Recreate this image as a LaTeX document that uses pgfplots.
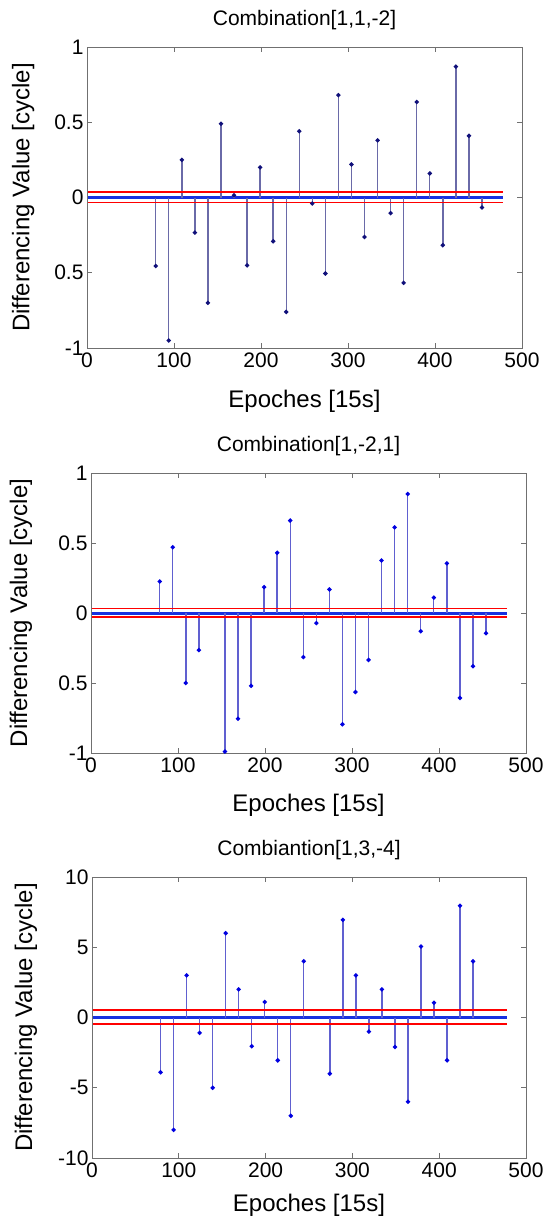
\documentclass[border=0pt]{standalone}
\usepackage{fontspec}
\setmainfont{Liberation Sans}
\usepackage{pgfplots}
\usepackage{pgfplotstable}
\pgfplotsset{compat=1.18}

\definecolor{boxgray}{HTML}{707070}
\definecolor{spikeA}{HTML}{6A6AA8}
\definecolor{dotA}{HTML}{10107A}
\definecolor{spikeB}{HTML}{6060D0}
\definecolor{dotB}{HTML}{0000E0}
\definecolor{band}{HTML}{1830E0}

% spike epochs and values
\pgfplotstableread{
e v
79 -0.455
94 -0.95
109 0.25
124 -0.233
139 -0.70
154 0.49
169 0.015
184 -0.451
199 0.20
214 -0.291
229 -0.76
244 0.44
259 -0.04
274 -0.505
289 0.68
304 0.22
319 -0.262
334 0.38
349 -0.104
364 -0.567
379 0.635
394 0.16
409 -0.317
424 0.87
439 0.41
454 -0.067
}\spikesA
\pgfplotstableread{
e v
79 0.225
94 0.47
109 -0.50
124 -0.265
154 -0.99
169 -0.755
184 -0.52
199 0.185
214 0.43
229 0.66
244 -0.315
259 -0.072
274 0.168
289 -0.795
304 -0.565
319 -0.335
334 0.375
349 0.612
364 0.85
379 -0.13
394 0.11
409 0.355
424 -0.607
439 -0.38
454 -0.145
}\spikesB
\pgfplotstableread{
e v
79 -3.9
94 -8.0
109 3.0
124 -1.1
139 -5.0
154 6.0
169 2.0
184 -2.05
199 1.1
214 -3.05
229 -7.0
244 4.0
274 -4.0
289 6.95
304 3.0
319 -1.0
334 2.0
349 -2.1
364 -6.0
379 5.05
394 1.05
409 -3.05
424 7.95
439 4.0
}\spikesC

\pgfplotsset{
  panel/.style={
    scale only axis, anchor=south west,
    xmin=0, xmax=500, xtick={0,100,...,500},
    xticklabels={0,100,200,300,400,500},
    tick align=inside, major tick length=5pt,
    axis line style={boxgray, line width=0.8pt},
    every tick/.style={boxgray, line width=0.8pt},
    ticklabel style={font=\fontsize{21}{21}\selectfont},
    xticklabel style={yshift=-1pt},
    label style={font=\fontsize{24}{24}\selectfont},
    title style={font=\fontsize{21}{21}\selectfont, at={(0.5,1)}, anchor=south, yshift=8pt},
    xlabel={Epoches [15s]},
    ylabel={Differencing Value [cycle]},
    clip=false,
  },
}

\begin{document}
\begin{tikzpicture}
\useasboundingbox (0,0) rectangle (545pt,-1220pt);

\begin{axis}[panel, at={(87pt,-348pt)}, width=435pt, height=301pt,
  title={Combination[1,1,-2]},
  ymin=-1, ymax=1, ytick={-1,-0.5,0,0.5,1}, yticklabels={-1,0.5,0,0.5,1},
  xlabel style={at={(axis description cs:0.5,0)}, anchor=center, yshift=-53pt},
  ylabel style={at={(axis description cs:-0.147,0.5)}, anchor=center}]
\addplot[band, line width=3pt] coordinates {(1,0) (478,0)};
\addplot[ycomb, spikeA, line width=1.4pt, mark=*, mark size=1.4pt,
  mark options={dotA, fill=dotA}] table[x=e, y=v] {\spikesA};
\addplot[red, line width=1.6pt] coordinates {(1,0.035) (478,0.035)};
\addplot[red, line width=1.6pt] coordinates {(1,-0.032) (478,-0.032)};
\end{axis}

\begin{axis}[panel, at={(91pt,-753pt)}, width=435pt, height=280pt,
  title={Combination[1,-2,1]},
  ymin=-1, ymax=1, ytick={-1,-0.5,0,0.5,1}, yticklabels={-1,0.5,0,0.5,1},
  xlabel style={at={(axis description cs:0.5,0)}, anchor=center, yshift=-52pt},
  ylabel style={at={(axis description cs:-0.161,0.5)}, anchor=center}]
\addplot[band, line width=3.5pt] coordinates {(1,-0.004) (478,-0.004)};
\addplot[ycomb, spikeB, line width=1.4pt, mark=*, mark size=1.4pt,
  mark options={dotB, fill=dotB}] table[x=e, y=v] {\spikesB};
\addplot[red, line width=1.6pt] coordinates {(1,0.033) (478,0.033)};
\addplot[red, line width=1.6pt] coordinates {(1,-0.028) (478,-0.028)};
\end{axis}

\begin{axis}[panel, at={(92pt,-1158pt)}, width=434pt, height=281pt,
  title={Combiantion[1,3,-4]},
  ymin=-10, ymax=10, ytick={-10,-5,0,5,10}, yticklabels={-10,-5,0,5,10},
  xlabel style={at={(axis description cs:0.5,0)}, anchor=center, yshift=-47pt},
  ylabel style={at={(axis description cs:-0.152,0.5)}, anchor=center}]
\addplot[band, line width=3pt] coordinates {(1,0) (478,0)};
\addplot[ycomb, spikeB, line width=1.4pt, mark=*, mark size=1.4pt,
  mark options={dotB, fill=dotB}] table[x=e, y=v] {\spikesC};
\addplot[red, line width=1.8pt] coordinates {(1,0.52) (478,0.52)};
\addplot[red, line width=1.8pt] coordinates {(1,-0.48) (478,-0.48)};
\end{axis}
\end{tikzpicture}
\end{document}
